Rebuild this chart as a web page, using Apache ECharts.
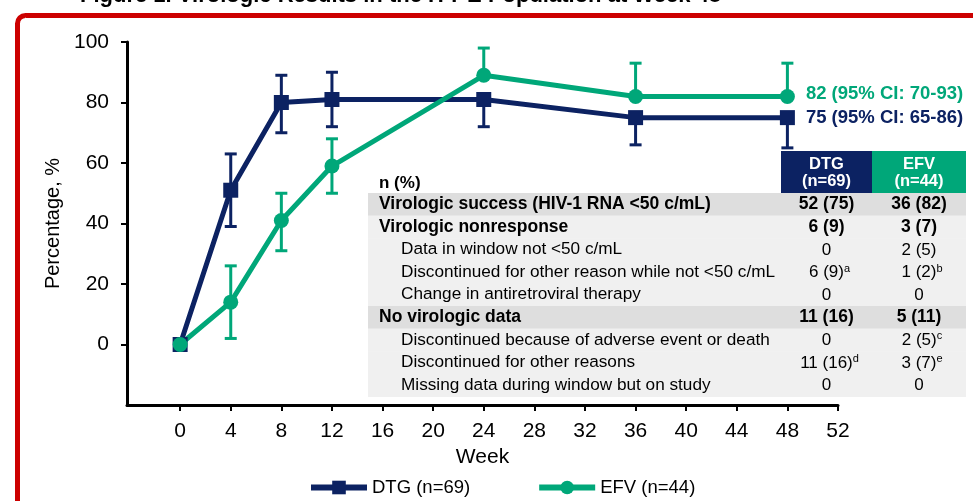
<!DOCTYPE html>
<html><head><meta charset="utf-8">
<script src="https://cdn.jsdelivr.net/npm/echarts@6/dist/echarts.min.js"></script>
<style>html,body{margin:0;padding:0;background:#fff}#c{width:973px;height:501px}</style>
</head><body><div id="c"></div>
<script>
// ---------- data ----------
const weeks = [0, 4, 8, 12, 24, 36, 48];
const dtgValues = [0, 51, 80, 81, 81, 75, 75];
const dtgLow    = [null, 39, 70, 72, 72, 66, 65];
const dtgHigh   = [null, 63, 89, 90, 90, 84, 86];
const efvValues = [0, 14, 41, 59, 89, 82, 82];
const efvLow    = [null, 2, 31, 50, 80, 72, 70];
const efvHigh   = [null, 26, 50, 68, 98, 93, 93];
const xTicks = [0, 4, 8, 12, 16, 20, 24, 28, 32, 36, 40, 44, 48, 52];
const yTicks = [0, 20, 40, 60, 80, 100];
const seriesNames = ['DTG (n=69)', 'EFV (n=44)'];
const endLabels = ['75 (95% CI: 65-86)', '82 (95% CI: 70-93)'];
const titleText = 'Figure 1. Virologic Results in the ITT-E Population at Week 48';
const tableCorner = 'n (%)';
const tableHeads = [['DTG', '(n=69)'], ['EFV', '(n=44)']];
const tableRows = [
  'Virologic success (HIV-1 RNA <50 c/mL)',
  'Virologic nonresponse',
  'Data in window not <50 c/mL',
  'Discontinued for other reason while not <50 c/mL',
  'Change in antiretroviral therapy',
  'No virologic data',
  'Discontinued because of adverse event or death',
  'Discontinued for other reasons',
  'Missing data during window but on study'
];
const dtgCol   = ['52 (75)', '6 (9)', '0', '6 (9)', '0', '11 (16)', '0', '11 (16)', '0'];
const dtgNotes = ['', '', '', 'a', '', '', '', 'd', ''];
const efvCol   = ['36 (82)', '3 (7)', '2 (5)', '1 (2)', '0', '5 (11)', '2 (5)', '3 (7)', '0'];
const efvNotes = ['', '', '', 'b', '', '', 'c', 'e', ''];
const rowLevel = [0, 0, 1, 1, 1, 0, 1, 1, 1]; // 0 = bold heading row, 1 = indented

// ---------- styles ----------
const NAVY = '#0c2262', GREEN = '#00a779', RED = '#cc0000';
const FONT = '"Liberation Sans", Arial, sans-serif';
// which half of each error bar is visible (overlapping halves hidden)
const dtgSides = ['none', 'both', 'both', 'both', 'low', 'low', 'low'];
const efvSides = ['none', 'both', 'both', 'both', 'high', 'high', 'high'];

function errSeries(color, vals, lows, highs, sides) {
  const data = [];
  weeks.forEach((w, i) => { if (lows[i] != null) data.push([w, lows[i], highs[i], i]); });
  return {
    type: 'custom', silent: true, data, encode: { x: 0, y: [1, 2] },
    renderItem(params, api) {
      const i = api.value(3), w = api.value(0), side = sides[i];
      const mid = api.coord([w, vals[i]]);
      const lo = api.coord([w, api.value(1)]);
      const hi = api.coord([w, api.value(2)]);
      const top = side === 'low' ? mid[1] : hi[1];
      const bot = side === 'high' ? mid[1] : lo[1];
      const st = { stroke: color, lineWidth: 3 };
      const ch = [{ type: 'line', shape: { x1: mid[0], y1: top, x2: mid[0], y2: bot }, style: st }];
      if (side !== 'low') ch.push({ type: 'line', shape: { x1: mid[0] - 6, y1: hi[1], x2: mid[0] + 6, y2: hi[1] }, style: st });
      if (side !== 'high') ch.push({ type: 'line', shape: { x1: mid[0] - 6, y1: lo[1], x2: mid[0] + 6, y2: lo[1] }, style: st });
      return { type: 'group', children: ch };
    }
  };
}

function lineSeries(k, color, vals, symbol, size, labelOffset) {
  const data = weeks.map((w, i) => {
    const item = { value: [w, vals[i]] };
    if (i === weeks.length - 1) {
      item.label = {
        show: true, position: 'right', distance: 11, offset: labelOffset,
        formatter: endLabels[k], color, fontWeight: 'bold', fontSize: 18.5, fontFamily: FONT
      };
    }
    return item;
  });
  return {
    type: 'line', name: seriesNames[k], data, symbol, symbolSize: size,
    lineStyle: { color, width: 5 }, itemStyle: { color, opacity: 1 },
    emphasis: { disabled: true }, animation: false
  };
}

// ---------- table graphic ----------
const tbl = [];
const tX0 = 368, tX1 = 966, c1 = 781, c2 = 872, hTop = 151, rTop = 193, rH = 22.6;
tbl.push({ type: 'rect', shape: { x: c1, y: hTop, width: c2 - c1, height: rTop - hTop }, style: { fill: NAVY } });
tbl.push({ type: 'rect', shape: { x: c2, y: hTop, width: tX1 - c2, height: rTop - hTop }, style: { fill: GREEN } });
[[c1, c2], [c2, tX1]].forEach((c, j) => {
  tbl.push({ type: 'text', style: { text: tableHeads[j][0] + '\n' + tableHeads[j][1], x: (c[0] + c[1]) / 2, y: (hTop + rTop) / 2 + 0.5,
    align: 'center', verticalAlign: 'middle', fill: '#fff', font: 'bold 16.5px ' + FONT, lineHeight: 17 } });
});
tbl.push({ type: 'text', style: { text: tableCorner, x: 379, y: 183, verticalAlign: 'middle', fill: '#000', font: 'bold 17px ' + FONT } });
tableRows.forEach((t, i) => {
  const y = rTop + i * rH;
  tbl.push({ type: 'rect', shape: { x: tX0, y, width: tX1 - tX0, height: rH + 0.5 },
    style: { fill: (i === 0 || i === 5) ? '#dedede' : '#f0f0f0' } });
});
tableRows.forEach((t, i) => {
  const cy = rTop + i * rH + rH / 2;
  const bold = rowLevel[i] === 0;
  const f = (bold ? 'bold 17.5px ' : '17.2px ') + FONT;
  tbl.push({ type: 'text', style: { text: t, x: bold ? 379 : 401, y: cy, verticalAlign: 'middle', fill: '#000', font: f } });
  [[dtgCol, dtgNotes, (c1 + c2) / 2], [efvCol, efvNotes, (c2 + tX1) / 2]].forEach(([col, notes, cx]) => {
    const txt = notes[i] ? '{v|' + col[i] + '}{s|' + notes[i] + '}' : '{v|' + col[i] + '}';
    tbl.push({ type: 'text', style: { text: txt, x: cx + (notes[i] ? 3 : 0), y: cy, align: 'center', verticalAlign: 'middle',
      rich: {
        v: { fontSize: bold ? 17.5 : 17, fontWeight: bold ? 'bold' : 'normal', fontFamily: FONT, fill: '#000', lineHeight: 18, verticalAlign: 'bottom' },
        s: { fontSize: 11, fontFamily: FONT, fill: '#000', lineHeight: 18, verticalAlign: 'top' }
      } } });
  });
});

const chart = echarts.init(document.getElementById('c'), null, { renderer: 'canvas' });
chart.setOption({
  animation: false,
  backgroundColor: '#fff',
  grid: { left: 127, right: 135, top: 42, bottom: 96, containLabel: false },
  xAxis: {
    type: 'value', min: -4.2, max: 52,
    name: 'Week', nameLocation: 'middle', nameGap: 40,
    nameTextStyle: { fontSize: 21, color: '#000', fontFamily: FONT },
    axisLine: { onZero: false, lineStyle: { color: '#000', width: 3 } },
    axisTick: { show: true, length: 6, lineStyle: { color: '#000', width: 2 }, customValues: xTicks },
    axisLabel: { color: '#000', fontSize: 21, fontFamily: FONT, margin: 16, customValues: xTicks },
    splitLine: { show: false }
  },
  yAxis: {
    type: 'value', min: -20, max: 100,
    name: 'Percentage, %', nameLocation: 'middle', nameGap: 64, nameRotate: 90,
    nameTextStyle: { fontSize: 20, color: '#000', fontFamily: FONT },
    axisLine: { show: true, onZero: false, lineStyle: { color: '#000', width: 3 } },
    axisTick: { show: true, length: 6, lineStyle: { color: '#000', width: 2 }, customValues: yTicks },
    axisLabel: { color: '#000', fontSize: 21, fontFamily: FONT, margin: 18, customValues: yTicks },
    splitLine: { show: false }
  },
  legend: {
    data: seriesNames, top: 473, left: 303, itemWidth: 56, itemHeight: 17, itemGap: 66,
    lineStyle: { width: 6 },
    textStyle: { fontSize: 18.5, color: '#000', fontFamily: FONT }
  },
  series: [
    errSeries(NAVY, dtgValues, dtgLow, dtgHigh, dtgSides),
    errSeries(GREEN, efvValues, efvLow, efvHigh, efvSides),
    lineSeries(0, NAVY, dtgValues, 'rect', 15, [0, 0]),
    lineSeries(1, GREEN, efvValues, 'circle', 15, [0, -3])
  ],
  graphic: [
    { type: 'text', left: 80, top: -15, style: { text: titleText, font: 'bold 22px ' + FONT, fill: '#000' } },
    { type: 'rect', shape: { x: 17.5, y: 15.5, width: 1100, height: 700, r: 8 }, style: { fill: 'none', stroke: RED, lineWidth: 5 }, z: 10 },
    ...tbl
  ]
});
</script></body></html>
